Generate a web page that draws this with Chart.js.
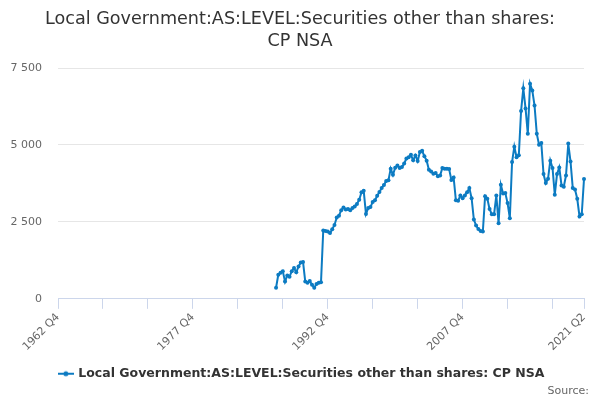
<!DOCTYPE html>
<html>
<head>
<meta charset="utf-8">
<script src="https://cdn.jsdelivr.net/npm/chart.js@4.4.0/dist/chart.umd.min.js"></script>
<style>
  html, body { margin: 0; padding: 0; background: #fff; }
  #wrap { width: 600px; height: 400px; }
</style>
</head>
<body>
<div id="wrap"><canvas id="chart"></canvas></div>
<script>
// first quarter on the axis, and how many quarters it spans
const startYear = 1962;
const startQuarter = 4;
const quarterCount = 235; // 1962 Q4 .. 2021 Q2

// the series only starts in 1987 Q1
const seriesStart = '1987 Q1';
const seriesValues = [
  360, 780, 850, 900, 560, 760, 720, 900, 1000, 860,
  1050, 1180, 1200, 560, 520, 580, 460, 360, 480, 520,
  540, 2220, 2200, 2190, 2140, 2260, 2400, 2640, 2700, 2880,
  2970, 2900, 2920, 2880, 2950, 3000, 3080, 3220, 3460, 3510,
  2760, 2950, 2980, 3150, 3200, 3350, 3470, 3600, 3700, 3830,
  3850, 4230, 4030, 4260, 4330, 4250, 4280, 4400, 4560, 4600,
  4680, 4500, 4660, 4480, 4770, 4810, 4630, 4490, 4195, 4140,
  4065, 4085, 3980, 4010, 4250, 4230, 4230, 4215, 3860, 3945,
  3205, 3185, 3360, 3270, 3360, 3465, 3600, 3270, 2575, 2380,
  2270, 2205, 2185, 3335, 3250, 2915, 2750, 2750, 3360, 2455,
  3705, 3425, 3435, 3110, 2620, 4445, 4945, 4600, 4665, 6100,
  6840, 6185, 5360, 6990, 6770, 6280, 5360, 5010, 5065, 4055,
  3760, 3900, 4490, 4250, 3380, 4055, 4270, 3685, 3640, 4010,
  5045, 4465, 3600, 3555, 3250, 2675, 2750, 3890
];

const labelledTicks = ['1962 Q4', '1977 Q4', '1992 Q4', '2007 Q4', '2021 Q2'];
const yTicks = [0, 2500, 5000, 7500];

const seriesName = 'Local Government:AS:LEVEL:Securities other than shares: CP NSA';
const sourceText = 'Source:';
const lineColor = '#0c7bc2';

// build the quarter categories
const categories = [];
for (let i = 0; i < quarterCount; i++) {
  const q = startQuarter - 1 + i;
  categories.push((startYear + Math.floor(q / 4)) + ' Q' + (q % 4 + 1));
}

// pad the series with nulls up to its first quarter
const offset = categories.indexOf(seriesStart);
const data = categories.map((c, i) => {
  const k = i - offset;
  return (k >= 0 && k < seriesValues.length) ? seriesValues[k] : null;
});

function tickMarked(index) {
  return index % 20 === 0 || index === quarterCount - 1;
}

function formatThousands(v) {
  return String(v).replace(/\B(?=(\d{3})+(?!\d))/g, ' ');
}

// little line + dot symbol for the legend
function legendSymbol() {
  const c = document.createElement('canvas');
  c.width = 16;
  c.height = 8;
  const ctx = c.getContext('2d');
  ctx.strokeStyle = lineColor;
  ctx.lineWidth = 2;
  ctx.beginPath();
  ctx.moveTo(0, 4);
  ctx.lineTo(16, 4);
  ctx.stroke();
  ctx.fillStyle = lineColor;
  ctx.beginPath();
  ctx.arc(8, 4, 2.5, 0, Math.PI * 2);
  ctx.fill();
  return c;
}

const fontFamily = '"DejaVu Sans", Verdana, sans-serif';

// nudge title and legend so they sit centred on the whole page
const centreBoxes = {
  id: 'centreBoxes',
  afterLayout(chart) {
    if (chart.titleBlock) {
      chart.titleBlock.left += 4;
      chart.titleBlock.right += 4;
    }
    if (chart.legend) {
      chart.legend.left += 6;
      chart.legend.right += 6;
      chart.legend.top += 4;
      chart.legend.bottom += 4;
    }
  }
};

// "Source:" credit in the bottom right corner
const sourceCredit = {
  id: 'sourceCredit',
  afterDraw(chart) {
    const ctx = chart.ctx;
    ctx.save();
    ctx.font = '11px ' + fontFamily;
    ctx.fillStyle = '#666666';
    ctx.textAlign = 'right';
    ctx.textBaseline = 'middle';
    ctx.fillText(sourceText, 589, 391);
    ctx.restore();
  }
};

new Chart(document.getElementById('chart'), {
  type: 'line',
  data: {
    labels: categories,
    datasets: [{
      label: seriesName,
      data: data,
      borderColor: lineColor,
      backgroundColor: lineColor,
      borderWidth: 2,
      pointRadius: 2,
      pointHoverRadius: 3,
      pointBorderWidth: 0,
      spanGaps: false,
      tension: 0
    }]
  },
  plugins: [centreBoxes, sourceCredit],
  options: {
    responsive: true,
    maintainAspectRatio: false,
    animation: false,
    layout: { padding: { left: 8, right: 16, top: 8, bottom: 14 } },
    scales: {
      x: {
        type: 'category',
        offset: false,
        grid: {
          drawOnChartArea: false,
          drawTicks: true,
          tickLength: 10,
          tickColor: ctx => tickMarked(ctx.index) ? '#ccd6eb' : 'rgba(0,0,0,0)',
          color: 'rgba(0,0,0,0)'
        },
        border: { color: '#ccd6eb', width: 1 },
        ticks: {
          autoSkip: false,
          maxRotation: 45,
          minRotation: 45,
          color: '#666666',
          font: { family: fontFamily, size: 11 },
          padding: 2,
          callback: function (value, index) {
            const lab = categories[index];
            return labelledTicks.includes(lab) ? lab : '';
          }
        }
      },
      y: {
        min: 0,
        max: 7500,
        afterBuildTicks: axis => { axis.ticks = yTicks.map(v => ({ value: v })); },
        afterFit: axis => { axis.width = 50; },
        grid: {
          color: '#e6e6e6',
          drawTicks: false
        },
        border: { display: false },
        ticks: {
          color: '#666666',
          font: { family: fontFamily, size: 11 },
          padding: 16,
          callback: v => formatThousands(v)
        }
      }
    },
    plugins: {
      title: {
        display: true,
        text: ['Local Government:AS:LEVEL:Securities other than shares:', 'CP NSA'],
        color: '#333333',
        font: { family: fontFamily, size: 17.6, weight: 'normal', lineHeight: 1.25 },
        padding: { top: 0, bottom: 16 }
      },
      legend: {
        position: 'bottom',
        labels: {
          color: '#333333',
          font: { family: fontFamily, size: 12.5, weight: 'bold' },
          usePointStyle: true,
          padding: 8,
          generateLabels: chart => [{
            text: seriesName,
            pointStyle: legendSymbol(),
            fontColor: '#333333',
            datasetIndex: 0,
            hidden: false,
            lineWidth: 0
          }]
        }
      },
      tooltip: { enabled: false }
    }
  }
});
</script>
</body>
</html>
